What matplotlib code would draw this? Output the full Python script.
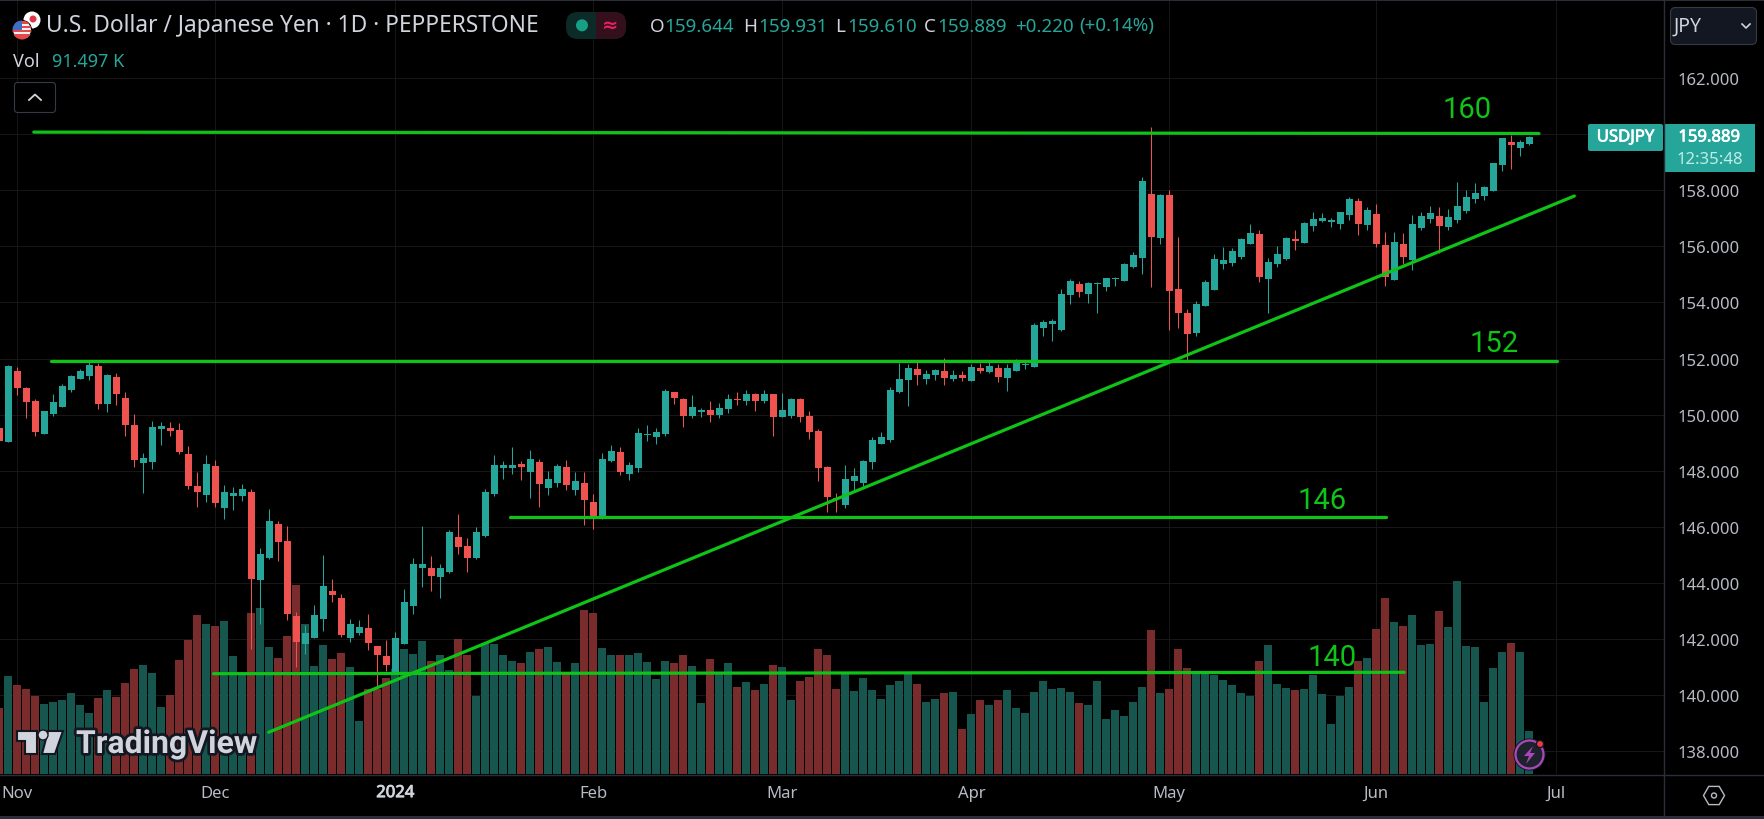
import matplotlib
matplotlib.use("Agg")
import matplotlib.pyplot as plt
from matplotlib.patches import Circle, FancyBboxPatch, Polygon, Rectangle, RegularPolygon
import matplotlib.patheffects as pe

plt.rcParams["font.family"] = ["Noto Sans", "DejaVu Sans"]

# daily candles
opens = [149.51, 149.01, 151.55, 150.94, 150.48, 149.30, 150.01, 150.26, 150.87, 151.26,
         151.37, 151.73, 150.37, 151.33, 150.58, 149.62, 148.26, 148.30, 149.48, 149.51,
         149.44, 148.58, 147.44, 147.12, 148.16, 146.66, 147.08, 147.08, 147.23, 144.08,
         144.87, 146.08, 145.48, 142.80, 141.80, 142.01, 142.69, 143.69, 143.44, 142.01,
         142.19, 142.37, 141.73, 141.37, 140.80, 141.80, 143.16, 144.51, 144.51, 144.19,
         144.37, 145.62, 145.30, 144.87, 145.66, 147.16, 148.08, 148.08, 148.23, 147.94,
         148.30, 147.37, 147.55, 148.12, 147.30, 147.55, 146.87, 146.39, 148.33, 148.66,
         147.87, 148.08, 149.26, 149.19, 149.30, 150.80, 150.55, 149.94, 150.08, 150.16,
         149.98, 150.19, 150.55, 150.48, 150.73, 150.48, 150.73, 149.91, 149.94, 150.55,
         149.94, 149.41, 148.12, 147.01, 146.76, 147.62, 147.55, 148.30, 148.94, 149.08,
         150.80, 151.23, 151.62, 151.26, 151.41, 151.55, 151.26, 151.41, 151.19, 151.66,
         151.51, 151.66, 151.30, 151.55, 151.76, 151.69, 153.08, 153.23, 153.01, 154.26,
         154.66, 154.30, 154.66, 154.55, 154.83, 154.76, 155.26, 155.58, 157.87, 156.30,
         157.83, 154.48, 153.62, 152.91, 153.87, 154.44, 155.37, 155.41, 155.62, 156.08,
         156.44, 154.83, 155.37, 155.55, 156.26, 156.12, 156.73, 156.91, 156.87, 156.80,
         157.12, 157.62, 156.76, 157.16, 156.05, 154.80, 156.08, 155.51, 156.66, 156.98,
         157.08, 156.69, 156.94, 157.26, 157.69, 157.80, 157.98, 158.91, 159.73, 159.51,
         159.644]
highs = [149.69, 151.77, 151.69, 150.98, 150.55, 150.12, 150.73, 151.08, 151.41, 151.62,
         151.91, 151.83, 151.44, 151.48, 150.80, 150.01, 148.62, 149.76, 149.73, 149.73,
         149.69, 148.87, 147.94, 148.55, 148.37, 147.48, 147.41, 147.51, 147.33, 145.23,
         146.62, 146.19, 146.01, 142.94, 142.48, 143.19, 144.98, 144.12, 143.58, 142.69,
         142.66, 142.87, 141.73, 141.94, 142.23, 143.76, 144.87, 146.01, 144.94, 144.66,
         145.87, 146.44, 145.58, 145.98, 147.33, 148.55, 148.33, 148.83, 148.33, 148.73,
         148.41, 147.98, 148.23, 148.37, 147.94, 147.94, 147.16, 148.62, 148.91, 148.83,
         148.30, 149.51, 149.62, 149.51, 150.91, 150.80, 150.58, 150.69, 150.23, 150.48,
         150.41, 150.73, 150.80, 150.87, 150.76, 150.87, 150.73, 150.76, 150.58, 150.58,
         150.12, 149.48, 148.16, 147.19, 148.19, 148.08, 148.37, 149.19, 149.37, 150.98,
         151.83, 151.80, 151.91, 151.58, 151.62, 152.01, 151.58, 151.55, 151.80, 151.83,
         151.91, 151.80, 151.80, 151.98, 151.94, 153.26, 153.37, 153.41, 154.48, 154.83,
         154.76, 154.73, 154.73, 154.87, 154.91, 155.41, 155.80, 158.48, 160.26, 157.87,
         158.01, 156.33, 153.76, 154.05, 154.80, 155.73, 155.98, 155.94, 156.30, 156.80,
         156.58, 155.58, 156.01, 156.33, 156.58, 156.87, 157.23, 157.19, 157.01, 157.23,
         157.76, 157.73, 157.41, 157.51, 156.51, 156.51, 156.48, 157.12, 157.23, 157.44,
         157.41, 157.33, 158.30, 158.01, 158.26, 158.16, 158.98, 159.87, 159.98, 159.80,
         159.931]
lows = [148.98, 149.01, 150.69, 149.87, 149.23, 149.30, 149.94, 150.26, 150.80, 151.26,
        151.23, 150.19, 150.08, 150.33, 149.23, 148.12, 147.19, 148.05, 148.91, 149.23,
        148.58, 147.33, 146.69, 146.87, 146.69, 146.26, 146.58, 146.91, 141.62, 142.51,
        144.83, 144.76, 142.66, 140.98, 141.44, 142.01, 142.26, 143.30, 142.05, 141.87,
        142.12, 141.58, 140.26, 140.83, 140.80, 141.80, 142.87, 143.83, 143.69, 143.44,
        144.33, 145.01, 144.37, 144.83, 145.62, 147.08, 147.69, 147.87, 147.66, 147.01,
        146.69, 147.12, 147.41, 147.30, 147.12, 146.05, 145.91, 146.26, 148.30, 147.83,
        147.66, 147.94, 149.05, 148.94, 149.23, 150.37, 149.55, 149.87, 149.91, 149.73,
        149.87, 150.05, 150.33, 150.33, 150.12, 150.41, 149.23, 149.91, 149.87, 149.73,
        149.12, 147.62, 146.51, 146.51, 146.66, 147.26, 147.44, 148.05, 148.94, 149.01,
        150.76, 150.30, 151.05, 151.08, 151.23, 151.05, 151.19, 151.19, 151.19, 151.48,
        151.48, 151.16, 150.83, 151.55, 151.62, 151.69, 152.80, 152.62, 152.98, 153.94,
        154.19, 153.98, 153.62, 154.41, 154.58, 154.76, 155.23, 155.01, 154.55, 156.08,
        153.01, 153.08, 151.91, 152.80, 153.87, 154.44, 155.19, 155.30, 155.55, 156.08,
        154.73, 153.62, 155.26, 155.51, 155.87, 156.12, 156.55, 156.87, 156.69, 156.62,
        156.94, 156.41, 156.58, 155.98, 154.58, 154.80, 155.37, 155.16, 156.58, 156.83,
        155.76, 156.58, 156.83, 157.19, 157.55, 157.66, 157.98, 158.69, 158.76, 159.23,
        159.610]
closes = [149.05, 151.73, 150.94, 150.44, 149.37, 150.12, 150.44, 151.01, 151.37, 151.55,
          151.76, 150.37, 151.41, 150.73, 149.62, 148.37, 148.44, 149.55, 149.58, 149.41,
          148.66, 147.44, 147.23, 148.23, 146.83, 147.23, 147.19, 147.33, 144.12, 145.01,
          146.19, 145.44, 142.87, 141.87, 142.19, 142.83, 143.87, 143.55, 142.12, 142.51,
          142.41, 141.83, 141.41, 141.05, 142.01, 143.30, 144.66, 144.66, 144.23, 144.51,
          145.80, 145.26, 144.87, 145.80, 147.23, 148.19, 148.19, 148.19, 148.12, 148.41,
          147.51, 147.69, 148.16, 147.48, 147.62, 146.94, 146.39, 148.41, 148.69, 147.94,
          148.19, 149.33, 149.30, 149.37, 150.83, 150.58, 149.94, 150.26, 150.16, 149.98,
          150.23, 150.55, 150.51, 150.73, 150.48, 150.73, 149.91, 150.16, 150.55, 149.91,
          149.37, 148.08, 147.05, 146.98, 147.69, 147.80, 148.33, 149.08, 149.19, 150.87,
          151.26, 151.66, 151.41, 151.44, 151.58, 151.30, 151.41, 151.30, 151.69, 151.55,
          151.73, 151.33, 151.66, 151.87, 151.80, 153.19, 153.30, 153.33, 154.30, 154.76,
          154.37, 154.69, 154.69, 154.87, 154.87, 155.37, 155.69, 158.33, 156.33, 157.83,
          154.41, 153.62, 152.87, 153.94, 154.73, 155.55, 155.51, 155.83, 156.26, 156.48,
          154.91, 155.44, 155.73, 156.30, 156.19, 156.83, 156.98, 157.01, 156.94, 157.23,
          157.69, 156.80, 157.30, 156.08, 154.91, 156.16, 155.62, 156.80, 157.08, 157.19,
          156.73, 157.05, 157.44, 157.76, 157.91, 158.12, 158.98, 159.87, 159.62, 159.73,
          159.889]
# volume in thousands
volumes = [140, 209, 189, 181, 166, 149, 153, 157, 172, 147,
           130, 162, 179, 164, 194, 223, 232, 215, 143, 168,
           243, 285, 338, 319, 315, 326, 251, 215, 343, 353,
           270, 247, 294, 402, 319, 230, 275, 245, 257, 228,
           113, 181, 181, 204, 223, 266, 255, 283, 240, 253,
           221, 287, 253, 166, 279, 277, 253, 240, 236, 260,
           266, 270, 238, 215, 236, 349, 343, 268, 253, 253,
           253, 257, 238, 202, 240, 236, 253, 230, 151, 245,
           215, 236, 185, 196, 179, 192, 232, 228, 157, 198,
           206, 266, 253, 181, 213, 177, 204, 179, 160, 189,
           198, 215, 192, 153, 160, 172, 174, 96, 128, 157,
           147, 157, 179, 140, 130, 174, 198, 181, 183, 174,
           151, 147, 198, 117, 136, 123, 153, 185, 306, 172,
           181, 266, 226, 213, 213, 211, 200, 189, 172, 166,
           240, 275, 192, 183, 179, 181, 211, 170, 106, 166,
           185, 240, 247, 309, 375, 323, 315, 338, 275, 277,
           347, 313, 411, 272, 270, 153, 226, 260, 279, 260,
           91.497]

month_pos = [2, 24, 44, 66, 87, 108, 130, 153, 173]
month_labels = ["Nov", "Dec", "2024", "Feb", "Mar", "Apr", "May", "Jun", "Jul"]
price_ticks = [138, 140, 142, 144, 146, 148, 150, 152, 154, 156, 158, 160, 162]

# hand drawn levels: (x1, price1, x2, price2)
level_lines = [(3.83, 160.08, 171.07, 160.03),
               (5.74, 151.92, 173.04, 151.92),
               (56.74, 146.35, 154.03, 146.35),
               (23.8, 140.75, 156.1, 140.80),
               (29.93, 138.66, 175.0, 157.80)]
level_labels = ["160", "152", "146", "140"]
level_label_x = [163.1, 166.1, 147.0, 148.1]
level_label_y = [160.90, 152.56, 146.96, 141.35]

W, H = 1765, 820
UP, DOWN = "#26a69a", "#ef5350"
VOL_UP, VOL_DOWN = "#16564f", "#7a2b2b"
GREEN = "#0fc416"
LINE = "#2a2e39"
TEXT = "#d1d4dc"
AXTEXT = "#b8bbc4"

fig = plt.figure(figsize=(W / 100, H / 100), dpi=100, facecolor="black")
rect = [0, (H - 775) / H, 1664 / W, 773 / H]

price_ax = fig.add_axes(rect, facecolor="black")
vol_ax = price_ax.twinx()
top_ax = price_ax.twinx()
price_ax.set_zorder(1)
vol_ax.set_zorder(2)
top_ax.set_zorder(3)
vol_ax.patch.set_visible(False)
top_ax.patch.set_visible(False)

xs = list(range(len(opens)))
price_ax.set_xlim(0.074, 184.96)
price_ax.set_ylim(137.17, 164.76)
top_ax.set_ylim(137.17, 164.76)
vol_ax.set_ylim(0, 1645)
vol_ax.axis("off")
top_ax.axis("off")

price_ax.yaxis.tick_right()
price_ax.set_yticks(price_ticks)
price_ax.set_yticklabels(["%.3f" % p for p in price_ticks], color=AXTEXT, fontsize=12)
price_ax.set_xticks(month_pos)
price_ax.set_xticklabels(month_labels, color=AXTEXT, fontsize=12)
price_ax.tick_params(axis="both", length=0)
price_ax.tick_params(axis="y", pad=10)
price_ax.tick_params(axis="x", pad=8)
year_label = price_ax.get_xticklabels()[2]
year_label.set_color(TEXT)
year_label.set_path_effects([pe.withStroke(linewidth=0.6, foreground=TEXT)])
price_ax.grid(True, color="#161616", linewidth=0.72)
price_ax.set_axisbelow(True)
for s in price_ax.spines.values():
    s.set_visible(False)

vol_colors = [VOL_UP if c >= o else VOL_DOWN for o, c in zip(opens, closes)]
vol_ax.bar(xs, volumes, width=8 / 9, color=vol_colors, linewidth=0)

colors = [UP if c >= o else DOWN for o, c in zip(opens, closes)]
top_ax.vlines(xs, lows, highs, colors=colors, linewidth=0.75)
body_low = [min(o, c) for o, c in zip(opens, closes)]
body_h = [abs(c - o) for o, c in zip(opens, closes)]
top_ax.bar(xs, body_h, bottom=body_low, width=7 / 9, color=colors, linewidth=0)

for x1, y1, x2, y2 in level_lines:
    top_ax.plot([x1, x2], [y1, y2], color=GREEN, linewidth=2.3, solid_capstyle="round")
for t, x, y in zip(level_labels, level_label_x, level_label_y):
    top_ax.text(x, y, t, color=GREEN, fontsize=21, ha="center", va="center", family="Roboto")

# screen furniture drawn in pixel coordinates
ui = fig.add_axes([0, 0, 1, 1], facecolor="none")
ui.set_zorder(5)
ui.set_xlim(0, W)
ui.set_ylim(H, 0)
ui.axis("off")

ui.add_patch(Rectangle((0, 0), W, 2, color=LINE, linewidth=0))
ui.add_patch(Rectangle((0, 817), W, 3, color=LINE, linewidth=0))
ui.plot([1664.5, 1664.5], [2, 817], color=LINE, linewidth=1)
ui.plot([0, W], [775.5, 775.5], color=LINE, linewidth=1)


def box(x, y, w, h, r, fc, ec="none"):
    ui.add_patch(FancyBboxPatch((x + r, y + r), w - 2 * r, h - 2 * r,
                                boxstyle="round,pad=%f,rounding_size=%f" % (r, r),
                                fc=fc, ec=ec, linewidth=0.8))


# flags
ui.add_patch(Circle((32, 21), 8.5, fc="white", ec="none"))
ui.add_patch(Circle((33, 20), 3.5, fc="#e0364a", ec="none"))
us = Circle((22, 31), 9.5, fc="#f2f2f2", ec="black", linewidth=0.8)
ui.add_patch(us)
for yy, hh, col, ww in [(22, 3, "#e5474b", 20), (27, 2, "#e5474b", 20), (31, 2, "#e5474b", 20),
                        (35, 6, "#e5474b", 20), (21, 10, "#3d6fc4", 10)]:
    r_ = Rectangle((12, yy), ww, hh, fc=col, ec="none")
    ui.add_patch(r_)
    r_.set_clip_path(us)

ui.text(46, 26.5, "U.S. Dollar / Japanese Yen · 1D · PEPPERSTONE", color=TEXT, fontsize=16.4, va="center")
ui.text(13, 62, "Vol", color=TEXT, fontsize=13, va="center")
ui.text(52, 62, "91.497 K", color=UP, fontsize=13, va="center")

# indicator pill
box(566, 13, 60, 27, 12, "#0c2b28")
ui.add_patch(Rectangle((596, 13), 18, 27, fc="#33101c", ec="none"))
box(600, 13, 26, 27, 12, "#33101c")
ui.add_patch(Circle((582, 26.3), 6, fc="#16a085", ec="none"))
ui.text(610, 26, "≈", color="#e91e63", fontsize=14, ha="center", va="center", fontweight="bold")

# ohlc legend
legend_items = [(650, "O", TEXT), (664, "159.644", UP), (743, "H", TEXT), (758, "159.931", UP),
                (835, "L", TEXT), (847, "159.610", UP), (923.5, "C", TEXT), (937, "159.889", UP),
                (1015, "+0.220", UP), (1079.5, "(+0.14%)", UP)]
for x, t, c in legend_items:
    ui.text(x, 26.5, t, color=c, fontsize=13.5, va="center")

# collapse button
box(14.5, 83.5, 41, 30, 3, "black", "#363a45")
ui.plot([29, 35, 41], [101, 95.5, 101], color=TEXT, linewidth=1.3)

# currency button
box(1670.5, 8.5, 86, 37, 5, "#131722", "#363a45")
ui.text(1674, 27, "JPY", color=TEXT, fontsize=14, va="center")
ui.plot([1742, 1746, 1750], [25, 29, 25], color=TEXT, linewidth=1.2)

# last price tags
heavy = [pe.withStroke(linewidth=0.5, foreground="white")]
box(1588, 125, 75, 27, 2, UP)
ui.add_patch(Rectangle((1664, 125), 91.5, 47.5, fc=UP, ec="none"))
ui.text(1625.5, 138.5, "USDJPY", color="white", fontsize=12, ha="center", va="center", path_effects=heavy)
ui.text(1709.5, 138.5, "159.889", color="white", fontsize=12, ha="center", va="center", path_effects=heavy)
ui.text(1709.5, 159.5, "12:35:48", color="#c5ebe6", fontsize=12, ha="center", va="center")

# tradingview mark
outline = [pe.withStroke(linewidth=4, foreground="#131722")]
logo1 = Polygon([(17, 732), (37.5, 732), (37.5, 755), (25, 755), (25, 742), (17, 742)], fc=TEXT, ec="#131722", linewidth=1.5)
logo2 = Polygon([(48, 732), (63, 732), (55, 755), (42, 755)], fc=TEXT, ec="#131722", linewidth=1.5)
ui.add_patch(logo1)
ui.add_patch(logo2)
ui.add_patch(Circle((43, 736), 5, fc=TEXT, ec="#131722", linewidth=1))
ui.text(76, 745, "TradingView", color=TEXT, fontsize=23, fontweight="bold", family="Roboto", va="center", path_effects=outline)

# lightning badge
ui.add_patch(Circle((1529.5, 755.5), 15, fc="#1e222d", ec="#131722", linewidth=1.5))
ui.add_patch(Circle((1529.5, 755.5), 14, fc="#1e222d", ec="#ab47bc", linewidth=1.6))
ui.add_patch(Polygon([(1533, 747), (1524, 757), (1529, 757), (1526, 765), (1535, 754), (1530, 754)], fc="#ab47bc", ec="none"))
ui.add_patch(Circle((1540, 745), 3.6, fc="#f23645", ec="#131722", linewidth=1))

# settings icon
ui.add_patch(RegularPolygon((1714, 796.5), 6, radius=10.5, orientation=0.5236, fc="none", ec=AXTEXT, linewidth=1))
ui.add_patch(Circle((1714, 796.5), 2.5, fc="none", ec=AXTEXT, linewidth=1))

fig.savefig("out.png", dpi=100, facecolor="black")
